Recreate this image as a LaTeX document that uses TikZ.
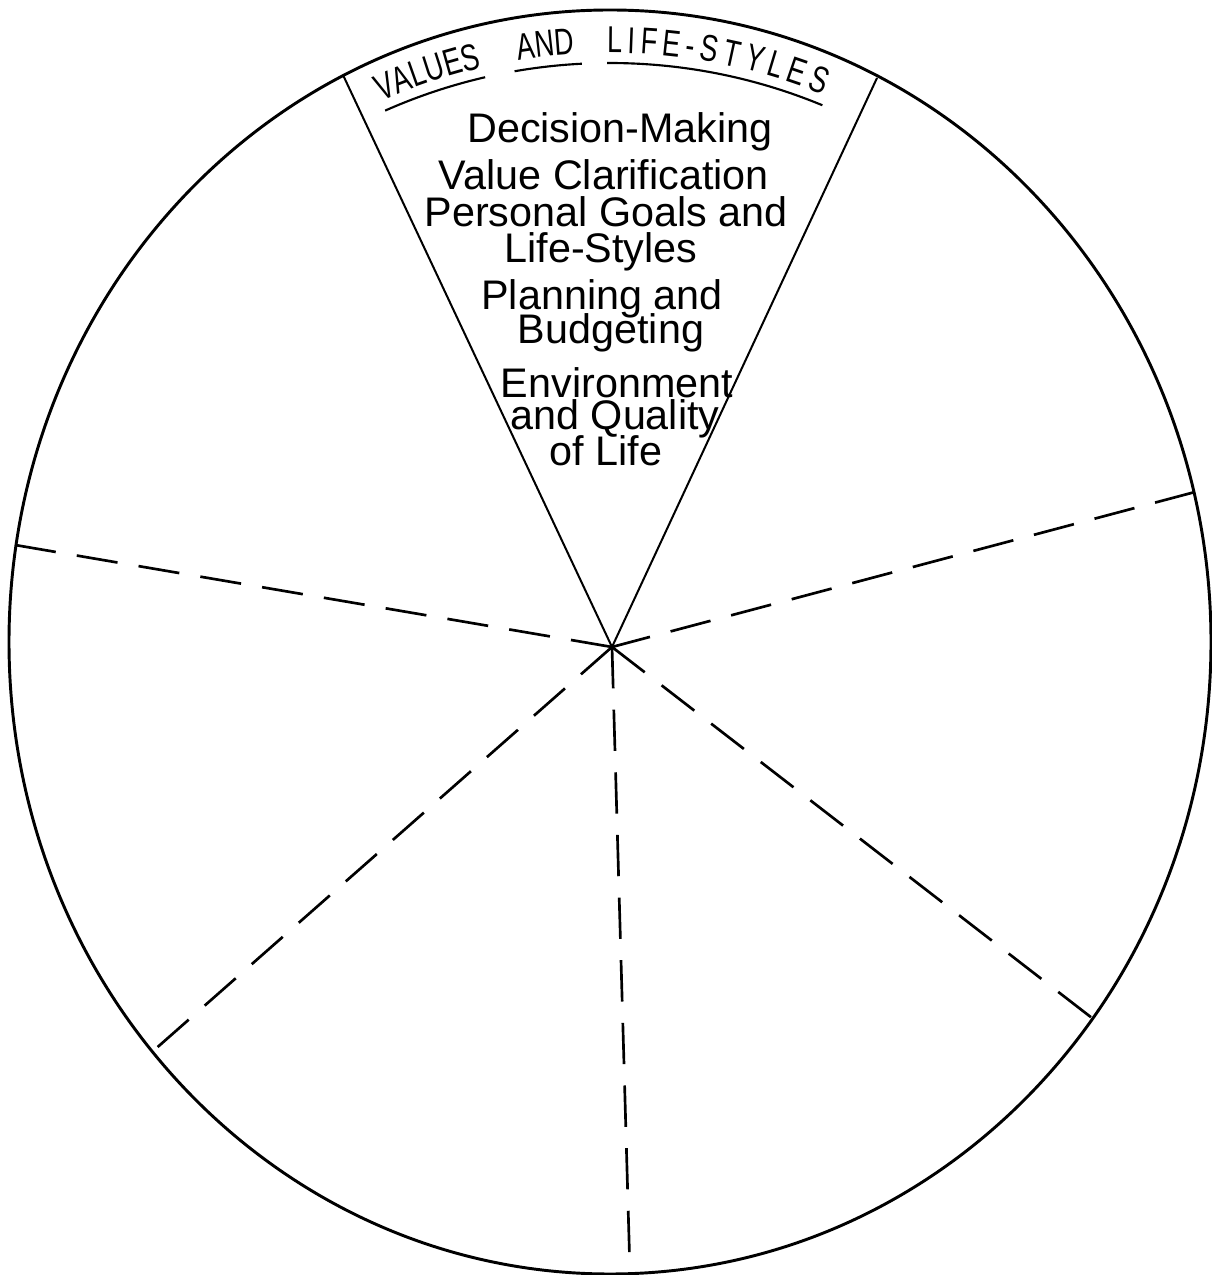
\documentclass[tikz,border=0pt]{standalone}
\usepackage{fontspec}
\setmainfont{Liberation Sans}
\newfontfamily\titlefam[FakeStretch=0.72]{Liberation Sans}
\usepackage{tikz}
\usetikzlibrary{positioning, decorations.text}
\newcommand{\itemfont}{\fontsize{31}{31}\selectfont}
\newcommand{\titlefont}{\titlefam\fontsize{28}{28}\selectfont}
\tikzset{
  rim/.style   ={line width=2.2pt},
  wedge/.style ={line width=1.5pt},
  spoke/.style ={line width=2pt, dash pattern=on 31pt off 16pt},
  uline/.style ={line width=1.6pt},
  item/.style  ={font=\itemfont, inner sep=0pt, anchor=base},
  word/.style  ={decorate, decoration={text along path, text align=center, text={|\titlefont|#1}}},
  fitword/.style={decorate, decoration={text along path, text align=fit to path, text={|\titlefont|#1}}},
}

\begin{document}
\begin{tikzpicture}[x=0.75pt, y=0.75pt]
  \useasboundingbox (0,0) rectangle (1212,1275);
  % wheel
  \coordinate (o) at (610,633);
  \coordinate (hub) at (612,628);
  \coordinate (tc) at (610,657);
  \draw[rim] (o) ellipse [x radius=601, y radius=632];
  % rim points
  \coordinate (pL)  at (343,1200);
  \coordinate (pR)  at (877,1197);
  \coordinate (dR)  at (1195,783);
  \coordinate (dL)  at (15,730);
  \coordinate (dLL) at (152,223);
  \coordinate (dB)  at (630,2);
  \coordinate (dLR) at (1092,257);
  \draw[wedge] (pL) -- (hub) -- (pR);
  \draw[spoke] (dL)  -- (hub);
  \draw[spoke] (dR)  -- (hub);
  \draw[spoke] (hub) -- (dLL);
  \draw[spoke] (hub) -- (dB);
  \draw[spoke] (hub) -- (dLR);
  % heading along the rim
  \path[word=VALUES] ([shift={(114.5:565)}]tc) arc[start angle=114.5, end angle=102.5, radius=565];
  \path[word=AND]    ([shift={(100.2:565)}]tc) arc[start angle=100.2, end angle=92.6, radius=565];
  \path[fitword=LIFE-STYLES] ([shift={(90.3:565)}]tc) arc[start angle=90.3, end angle=67.8, radius=565];
  \draw[uline] ([shift={(113.9:555)}]tc) arc[start angle=113.9, end angle=103, radius=555];
  \draw[uline] ([shift={(99.9:555)}]tc)  arc[start angle=99.9, end angle=92.9, radius=555];
  \draw[uline] ([shift={(90.3:555)}]tc)  arc[start angle=90.3, end angle=67.5, radius=555];
  % topics
  \node[item] (dm)  at (620,1132) {Decision-Making};
  \node[item] (vc)  at (604,1085) {Value Clarification};
  \node[item] (pg)  at (606,1048) {Personal Goals and};
  \node[item] (ls)  at (601,1012) {Life-Styles};
  \node[item] (pl)  at (602,965)  {Planning and};
  \node[item] (bu)  at (611,931)  {Budgeting};
  \node[item] (en)  at (617,877)  {Environment};
  \node[item] (aq)  at (615,845)  {and Quality};
  \node[item] (ol)  at (606,809)  {of Life};
\end{tikzpicture}
\end{document}
